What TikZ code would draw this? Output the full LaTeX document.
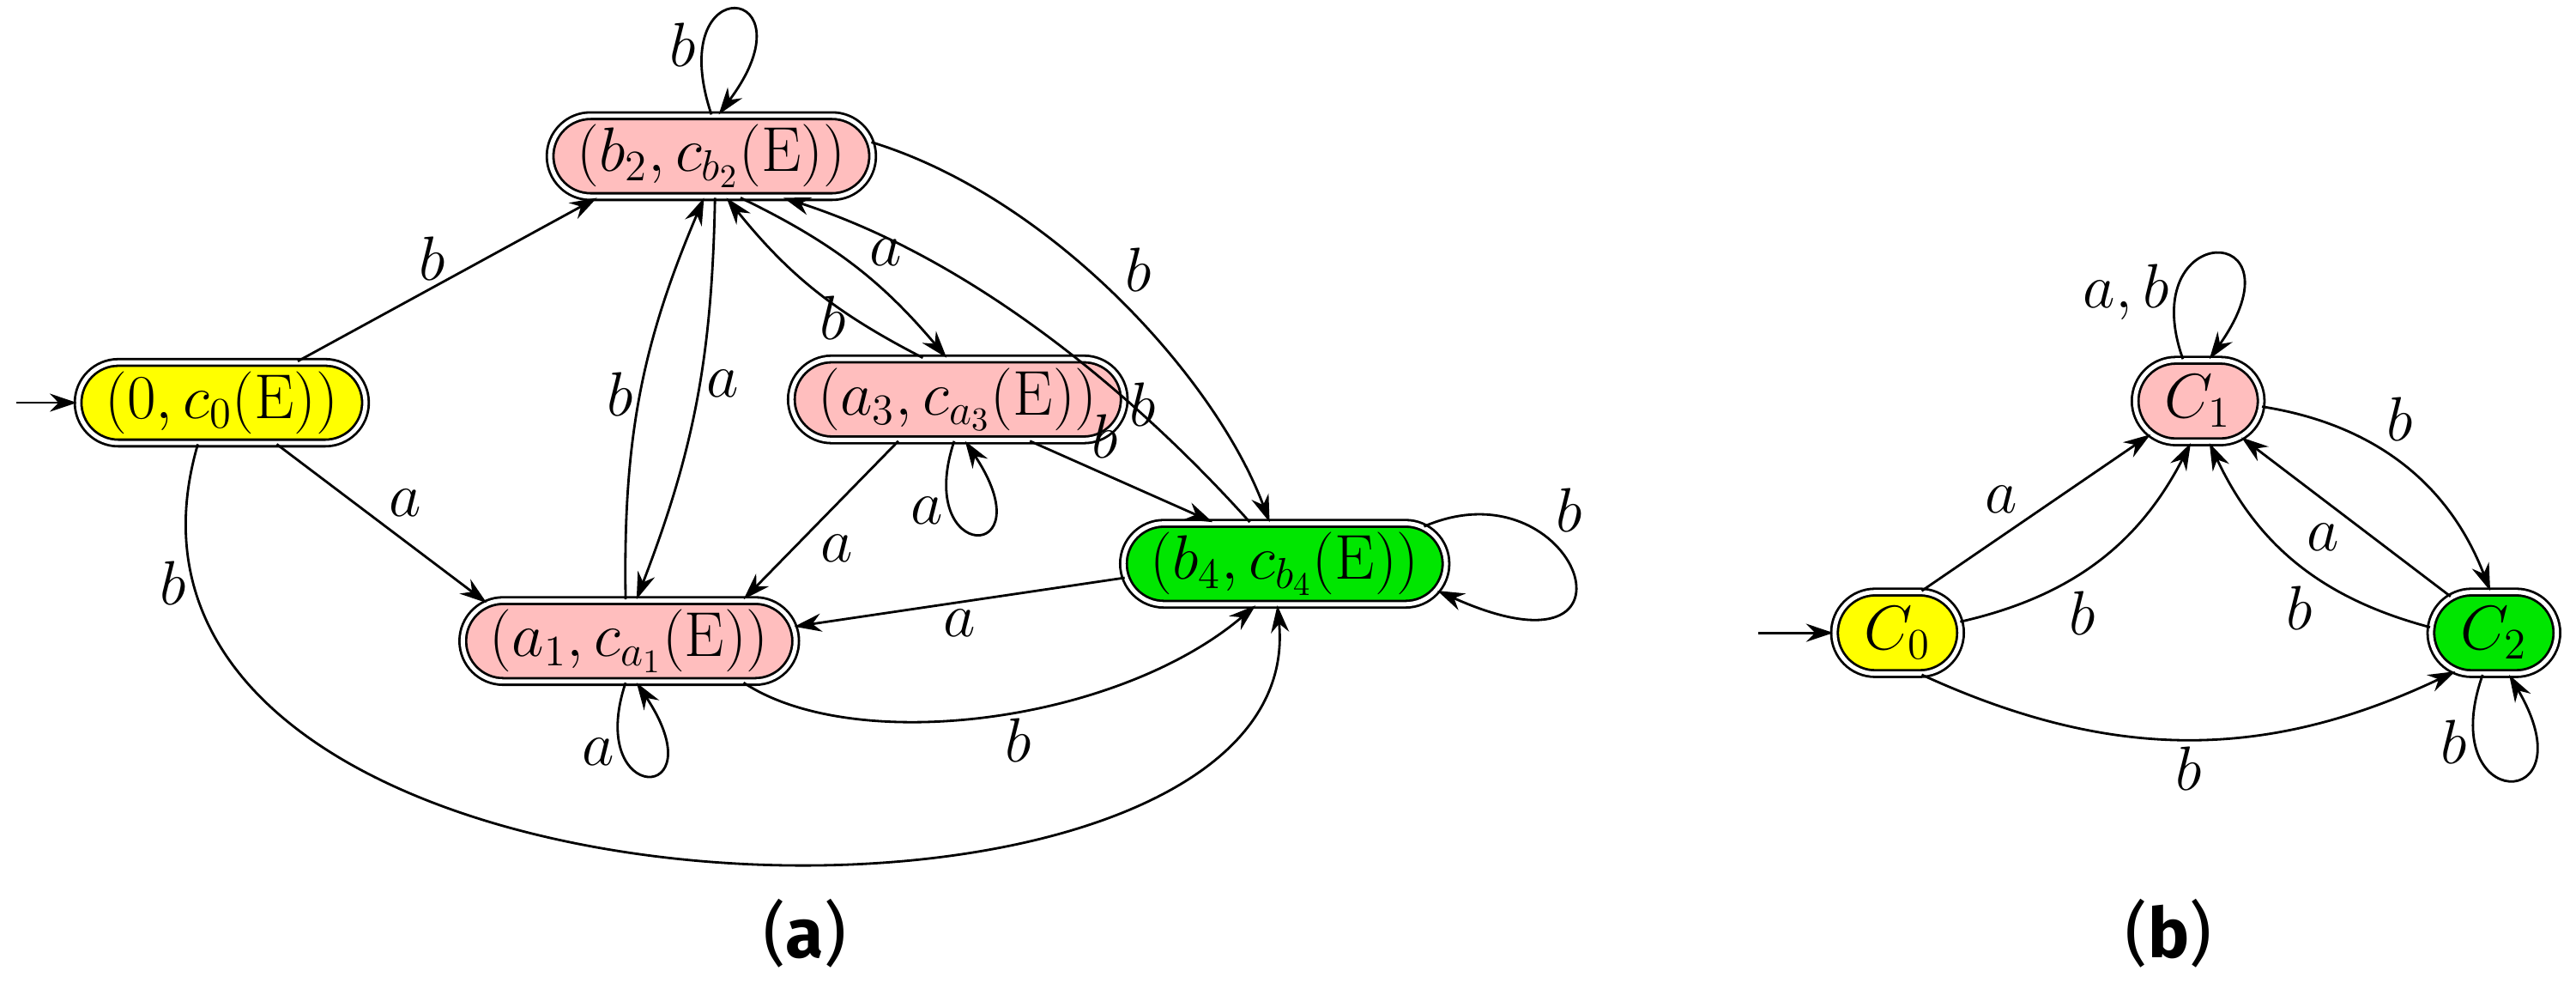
\documentclass[tikz,border=0pt]{standalone}
\usepackage{fontspec}
\newfontfamily\capfont{Fira Sans}
\usetikzlibrary{shapes.misc,arrows.meta}
\definecolor{pk}{RGB}{255,190,190}
\definecolor{gr}{RGB}{0,230,0}
\definecolor{yl}{RGB}{255,255,0}
\begin{document}
\begin{tikzpicture}[x=0.019145cm,y=-0.019145cm,
  st/.style={rounded rectangle,draw,double,double distance=1.4pt,thick,inner xsep=4pt,inner ysep=3pt,font=\fontsize{21}{24}\selectfont},
  ed/.style={-{Stealth[length=9pt,width=6pt]},thick},
  lb/.style={font=\fontsize{21}{24}\selectfont,inner sep=2pt}]
\useasboundingbox (0,0) rectangle (1568,598);
\node[st,fill=yl,minimum width=3.2cm] (N0) at (135,245) {$\bigl(0,c_0\bigl(\mathrm{E}\bigr)\bigr)$};
\node[st,fill=pk,minimum width=3.75cm] (B2) at (433,95) {$\bigl(b_2,c_{b_2}\bigl(\mathrm{E}\bigr)\bigr)$};
\node[st,fill=pk,minimum width=3.75cm] (A3) at (583,243) {$\bigl(a_3,c_{a_3}\bigl(\mathrm{E}\bigr)\bigr)$};
\node[st,fill=gr,minimum width=3.65cm] (B4) at (782,343) {$\bigl(b_4,c_{b_4}\bigl(\mathrm{E}\bigr)\bigr)$};
\node[st,fill=pk,minimum width=3.75cm] (A1) at (383,390) {$\bigl(a_1,c_{a_1}\bigl(\mathrm{E}\bigr)\bigr)$};
\coordinate (i0) at (10,245);
\draw[ed] (i0) -- (N0);
\draw[ed] (N0) -- node[lb,pos=0.45,above]{$b$} (B2.200);
\draw[ed] (N0) -- node[lb,pos=0.5,above right]{$a$} (A1.165);
\draw[ed] (N0.240) .. controls (30,580) and (800,600) .. node[lb,pos=0.1,left]{$b$} (B4.-100);
\draw[ed] (B2.90) .. controls +(-30,-90) and +(60,-80) .. node[lb,pos=0.2,left]{$b$} (B2.80);
\draw[ed] (B2.-85) to[bend left=10] node[lb,pos=0.45,right]{$a$} (A1.80);
\draw[ed] (A1.95) to[bend left=12] node[lb,pos=0.5,left]{$b$} (B2.-100);
\draw[ed] (B2.-55) to[bend left=12] node[lb,pos=0.55,above right]{$a$} (A3.105);
\draw[ed] (A3.130) to[bend left=12] node[lb,pos=0.3,left]{$b$} (B2.-70);
\draw[ed] (B2.5) .. controls (640,120) and (740,230) .. node[lb,pos=0.5,above right]{$b$} (B4.110);
\draw[ed] (B4.130) .. controls (700,250) and (600,160) .. node[lb,pos=0.25,above left]{$b$} (B2.-30);
\draw[ed] (A3.-95) .. controls +(-25,75) and +(50,75) .. node[lb,pos=0.25,left]{$a$} (A3.-80);
\draw[ed] (A3.-30) -- node[lb,pos=0.3,above right]{$b$} (B4.150);
\draw[ed] (A3.-145) -- node[lb,pos=0.55,below right]{$a$} (A1.20);
\draw[ed] (B4.185) -- node[lb,pos=0.5,below]{$a$} (A1.5);
\draw[ed] (A1.-95) .. controls +(-25,75) and +(50,75) .. node[lb,pos=0.25,left]{$a$} (A1.-80);
\draw[ed] (A1.-20) .. controls (520,460) and (680,440) .. node[lb,pos=0.55,below]{$b$} (B4.-125);
\draw[ed] (B4.15) .. controls (960,280) and (1010,420) .. node[lb,pos=0.35,above right]{$b$} (B4.-10);
% (b)
\node[st,fill=pk,minimum width=1.75cm,minimum height=0.95cm] (C1) at (1338,244) {$C_1$};
\node[st,fill=yl,minimum width=1.75cm,minimum height=0.95cm] (C0) at (1155,385) {$C_0$};
\node[st,fill=gr,minimum width=1.75cm,minimum height=0.95cm] (C2) at (1518,385) {$C_2$};
\coordinate (i1) at (1070,385);
\draw[ed] (i1) -- (C0);
\draw[ed] (C0.60) -- node[lb,pos=0.45,above left]{$a$} (C1.-145);
\draw[ed] (C0.10) to[bend right=25] node[lb,pos=0.35,below right]{$b$} (C1.-100);
\draw[ed] (C1.110) .. controls +(-30,-85) and +(60,-85) .. node[lb,pos=0.2,left]{$a,b$} (C1.75);
\draw[ed] (C1.-5) to[bend left=30] node[lb,pos=0.4,above right]{$b$} (C2.95);
\draw[ed] (C2.140) -- node[lb,pos=0.5,below left]{$a$} (C1.-40);
\draw[ed] (C2.175) to[bend left=25] node[lb,pos=0.4,below left]{$b$} (C1.-75);
\draw[ed] (C0.-60) to[bend right=25] node[lb,pos=0.5,below]{$b$} (C2.-135);
\draw[ed] (C2.-105) .. controls +(-30,85) and +(50,85) .. node[lb,pos=0.2,left]{$b$} (C2.-70);
\node[font=\capfont\fontsize{23}{27}\selectfont] (la) at (490,568) {(\textbf{a})};
\node[font=\capfont\fontsize{23}{27}\selectfont] (lbb) at (1320,568) {(\textbf{b})};
\end{tikzpicture}
\end{document}
